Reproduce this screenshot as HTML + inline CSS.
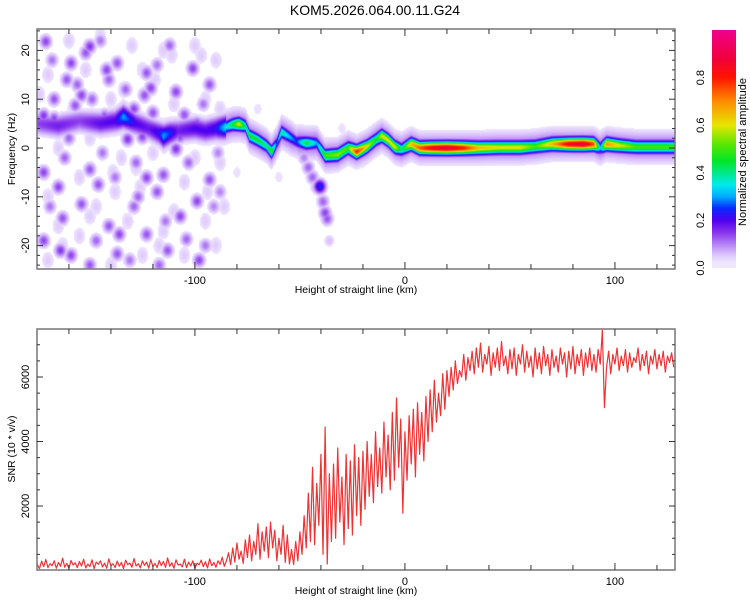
<!DOCTYPE html>
<html><head><meta charset="utf-8"><style>
body{margin:0;background:#fff;width:750px;height:600px;overflow:hidden;position:relative;font-family:"Liberation Sans",sans-serif}
#heat{position:absolute;left:37px;top:29px}
#svg{position:absolute;left:0;top:0}
</style></head><body>
<canvas id="heat" width="638" height="240"></canvas>
<svg id="svg" width="750" height="600"></svg>
<script>
// ---------- data ----------
const ridgeKm  = [-175,-165,-155,-145,-138,-134,-128,-122,-117,-115,-112,-108,-100,-95,-90,-86,-82,-79,-76,-74,-70,-66,-63.5,-61,-58.7,-55,-51.6,-47,-42,-38,-32,-27,-23,-18,-13.5,-11,-8,-4.8,-1.6,3,7,13,20,28,35,45,55,62,70,78,85,90,93,96,102,110,120,128.5];
const ridgeHz  = [5,4.5,5.5,5,5.5,6.4,5,4,3,2.4,3,3.5,4,3.5,4,4.2,4.8,4.9,4.5,2.5,1.6,0.5,-0.8,1,3.3,2.3,1.3,1,1,-1.6,-1.4,0,-0.8,0.3,1.8,2.5,1.6,0.2,-0.3,0.8,0,0,0,0,0,0.1,0.1,0.3,0.8,0.8,0.8,0.8,0,0.8,0.5,0.2,0.2,0.2];
const ridgeAmp = [0.14,0.17,0.14,0.19,0.2,0.3,0.2,0.18,0.22,0.3,0.25,0.17,0.2,0.2,0.22,0.32,0.45,0.6,0.4,0.45,0.45,0.4,0.5,0.25,0.4,0.32,0.25,0.45,0.3,0.5,0.55,0.5,0.8,0.6,0.45,0.6,0.6,0.6,0.4,0.65,0.75,0.85,0.9,0.8,0.65,0.6,0.6,0.5,0.65,0.85,0.9,0.75,0.3,0.7,0.6,0.5,0.5,0.5];
const dotKm = [-171,-150,-152,-159,-137,-142,-123,-101,-93,-161,-141,-121,-167,-154,-124,-109,-157,-149,-172,-167,-143,-129,-120,-105,-99,-132,-125,-109,-107,-172,-150,-165,-146,-123,-115,-93,-99,-107,-163,-172,-164,-150,-136,-123,-98,-137,-159,-113,-129,-154,-141,-118,-104,
 -168,-156,-145,-133,-118,-112,-96,-89,-162,-138,-127,-114,-103,-91,-169,-147,-131,-117,-95,-160,-144,-128,-111,-88,
 -48,-46,-44,-42,-40.5,-39,-38,-37,-36];
const dotHz = [21.8,20.8,19.5,17.4,17.4,16,15.4,16.3,13,14,14,12.3,10,10.8,10.8,11.5,8.7,10,6.6,6,6.6,8,7.2,6.8,5.1,1.8,2.3,-0.2,2.3,-5,-4.4,-8,-7.5,-6.1,-5.5,-6.5,-10.9,-14,-14.4,-19,-21,-24,-17.7,-17.7,-23,-21.7,-22,-21,-12,-11.5,-16,-9,-18.7,
 18,13,22,12,17,21,9,-1,-2,-6,-10,-15,-3,-12,-12,-19,-23,-24,-20,2,-1,-3,3,-9,
 -2,-4,-6,-8,-7.9,-11,-13.3,-14.5,-19];
const dotAmp = [0.14,0.15,0.13,0.14,0.13,0.14,0.13,0.14,0.13,0.13,0.12,0.14,0.13,0.14,0.13,0.14,0.13,0.12,0.15,0.14,0.13,0.14,0.13,0.13,0.14,0.15,0.14,0.15,0.14,0.14,0.13,0.14,0.13,0.14,0.13,0.13,0.14,0.14,0.13,0.14,0.15,0.13,0.14,0.13,0.14,0.13,0.14,0.13,0.12,0.13,0.13,0.13,0.12,
 0.11,0.12,0.11,0.12,0.11,0.12,0.11,0.1,0.12,0.11,0.12,0.11,0.12,0.1,0.11,0.12,0.11,0.12,0.11,0.12,0.11,0.12,0.11,0.1,
 0.1,0.12,0.12,0.1,0.25,0.12,0.14,0.13,0.06];
const haloKm = [-170,-160,-145,-130,-115,-100,-90,-165,-150,-135,-120,-100,-88,-170,-155,-138,-128,-110,-95,-90,-170,-155,-140,-125,-115,-105,-160,-140,-110,-95,-88,-125,-132,-165,-150,-105,
 -174,-158,-147,-126,-119,-104,-94,-152,-134,-117,-97,-163,-139,-111,-86,-80,-70,-60,-45,-30,-20];
const haloHz = [15,22,23,21,20,21,18,0,2,-2,-1,-2,-3,-10,-6,-9,-4,-13,-15,-20,-23,-18,-24,-22,-17,-22,5,10,9,10,8,16,-15,-16,-14,-7,
 11,8,-12,-8,14,3,-9,16,12,-20,19,-20,-5,19,-12,-5,8,-6,-4,4,-3];
const snrStartKm = -175, snrStepKm = 1;
const snrValues = [
180,60,290,120,340,90,210,150,300,70,250,130,380,100,220,60,310,170,240,90,
280,140,350,80,200,120,330,60,260,190,300,110,230,70,360,150,210,90,290,130,
250,60,320,180,230,100,370,140,210,80,300,160,260,70,340,120,220,90,310,150,
280,100,390,130,240,70,330,170,200,110,350,90,260,140,300,60,230,180,320,120,
270,80,360,150,250,100,300,190,410,130,
300,550,180,700,260,850,350,600,220,950,400,1100,300,900,500,
1450,350,1200,600,1350,400,1500,700,1250,300,1000,500,1400,250,1100,200,
650,180,900,300,1200,500,1700,700,2400,900,
3200,800,2700,1400,3600,500,4450,200,3000,900,
3300,1000,3800,1500,2900,800,3600,1300,3400,1100,3900,1700,3500,1400,
3700,1900,4000,2300,3600,2100,4300,2600,3800,2400,4600,2900,4200,2500,4900,
2800,5350,3200,4700,1780,4300,
2800,4800,3300,5000,2900,5200,3600,4900,3400,5400,
4000,5600,4300,5900,4600,5500,4800,6100,5000,6200,
5400,6300,5600,6500,5800,6200,6000,6700,5900,6600,
6200,6800,6100,6900,6300,7050,6150,6700,6400,6950,6050,6750,6300,6900,6200,7100,6350,6650,6100,6850,
6250,6900,6050,6700,6400,7000,6150,6800,6300,6650,6000,6900,6250,6750,6100,6950,6350,6700,6050,6850,
6300,6650,6150,6900,6400,6750,6000,6800,6250,6950,6100,6700,6350,6850,6050,6750,6300,6900,6200,6700,
6150,6850,6400,
7450,5050,
6300,6800,6100,6700,6400,6900,6200,6650,6350,6850,6150,6750,6300,6600,6450,6900,6200,6700,6350,6800,
6100,6650,6400,6850,6250,6700,6350,6800,6150,6650,6450,6750,6300];
const xTickLabels = [-100,0,100];
const freqTickLabels = [20,10,0,-10,-20];
const snrTickLabels = [2000,4000,6000];
const cbTickLabels = [0.0,0.2,0.4,0.6,0.8];

// ---------- axes ----------
const X0=37, X1=675, KM0=-175.2, KM1=128.6;
const xs = km => X0 + (km-KM0)/(KM1-KM0)*(X1-X0);
const TY0=29, TY1=269;
const yf = f => 148 - 4.88*f;
const BY0=329, BY1=570;
const ys = v => 570.5 - v*0.03225;
const CBX=712, CBW=24, CBY0=30, CBY1=268;
const yc = v => CBY1 - v*(CBY1-CBY0);

const stops=[[0,240,232,255],[0.03,238,228,255],[0.06,218,192,252],[0.1,180,130,246],[0.15,135,50,236],[0.2,80,0,240],[0.25,10,40,255],[0.3,0,170,255],[0.35,0,235,235],[0.45,0,230,40],[0.52,90,230,0],[0.6,230,230,0],[0.7,255,140,0],[0.8,255,20,0],[0.88,240,0,60],[1,240,0,140]];
function cmap(v){
  v=Math.max(0,Math.min(1,v));
  for(let i=1;i<stops.length;i++){ if(v<=stops[i][0]){const a=stops[i-1],b=stops[i];const t=(v-a[0])/(b[0]-a[0]||1);return [a[1]+t*(b[1]-a[1]),a[2]+t*(b[2]-a[2]),a[3]+t*(b[3]-a[3])];}}
  return stops[stops.length-1].slice(1);
}
function interp(xa,ya,x){
  if(x<=xa[0])return ya[0]; if(x>=xa[xa.length-1])return ya[ya.length-1];
  for(let i=1;i<xa.length;i++) if(x<=xa[i]){const t=(x-xa[i-1])/(xa[i]-xa[i-1]);return ya[i-1]+t*(ya[i]-ya[i-1]);}
}
// ---------- heatmap ----------
(function(){
  const cv=document.getElementById('heat'),ctx=cv.getContext('2d');
  const W=cv.width,H=cv.height,F=new Float32Array(W*H);
  const pxKm=px=>KM0+(px+0.5)/(X1-X0)*(KM1-KM0);
  const pyHz=py=>(148-(TY0+py+0.5))/4.88;
  for(let px=0;px<W;px++){
    const km=pxKm(px),f0=interp(ridgeKm,ridgeHz,km),a=interp(ridgeKm,ridgeAmp,km);
    const sf=km<-85?1.5:0.9, ha=Math.min(0.12,a*0.4);
    for(let py=0;py<H;py++){
      const df=pyHz(py)-f0;
      const v=Math.max(a*Math.exp(-df*df/(2*sf*sf)),ha*Math.exp(-df*df/(2*2.2*2.2)));
      const k=py*W+px; if(v>F[k])F[k]=v;
    }
  }
  function blob(km,hz,amp,sk,sh){
    const cx=xs(km)-X0,cy=yf(hz)-TY0,rx=sk*2.1*3,ry=sh*4.88*3;
    for(let px=Math.max(0,Math.floor(cx-rx));px<Math.min(W,cx+rx);px++)
      for(let py=Math.max(0,Math.floor(cy-ry));py<Math.min(H,cy+ry);py++){
        const dk=(pxKm(px)-km)/sk,dh=(pyHz(py)-hz)/sh;
        const v=amp*Math.exp(-(dk*dk+dh*dh)/2),k=py*W+px; if(v>F[k])F[k]=v;
      }
  }
  for(let i=0;i<haloKm.length;i++) blob(haloKm[i],haloHz[i],haloKm[i]>-85?0.035:0.05,2.6,1.6);
  for(let i=0;i<dotKm.length;i++){ blob(dotKm[i],dotHz[i],dotKm[i]>-85?0.034:0.045,3.0,1.7); blob(dotKm[i],dotHz[i],dotAmp[i],2.0,1.0); }
  const img=ctx.createImageData(W,H);
  for(let k=0;k<W*H;k++){
    const v=F[k],o=k*4;
    if(v<0.028){img.data[o]=255;img.data[o+1]=255;img.data[o+2]=255;img.data[o+3]=255;continue;}
    const c=cmap(v);img.data[o]=c[0];img.data[o+1]=c[1];img.data[o+2]=c[2];img.data[o+3]=255;
  }
  ctx.putImageData(img,0,0);
})();
// ---------- svg ----------
const svg=document.getElementById('svg'),NS='http://www.w3.org/2000/svg';
function el(tag,attrs,parent){const e=document.createElementNS(NS,tag);for(const k in attrs)e.setAttribute(k,attrs[k]);(parent||svg).appendChild(e);return e;}
function txt(s,x,y,attrs,name){const t=el('text',Object.assign({x:x,y:y,'font-size':11,fill:'#000','text-anchor':'middle','font-family':'Liberation Sans, sans-serif'},attrs||{}));t.textContent=s;


return t;}

txt('KOM5.2026.064.00.11.G24',375,15,{'font-size':14},'chart-title');

const defs=el('defs',{});
const lg=el('linearGradient',{id:'cbg',x1:0,y1:1,x2:0,y2:0},defs);
for(let i=0;i<=40;i++){const c=cmap(i/40);el('stop',{offset:i/40,'stop-color':`rgb(${c[0]|0},${c[1]|0},${c[2]|0})`},lg);}
const cb=el('rect',{x:CBX,y:CBY0,width:CBW,height:CBY1-CBY0,fill:'url(#cbg)'});


cbTickLabels.forEach(v=>{txt(v.toFixed(1),0,0,{transform:`translate(704,${yc(v)}) rotate(-90)`},'colorbar-tick-label');});
txt('Normalized spectral amplitude',0,0,{transform:'translate(746,152) rotate(-90)'},'colorbar-title');

function frame(y0,y1,name){
  const r=el('rect',{x:X0,y:y0,width:X1-X0,height:y1-y0,fill:'none',stroke:'#777','stroke-width':1.5});
  
  
  for(let km=-160;km<=120;km+=20){
    const x=xs(km),L=(km%100===0)?7:5;
    el('line',{x1:x,x2:x,y1:y0,y2:y0+L,stroke:'#333','stroke-width':1});
    el('line',{x1:x,x2:x,y1:y1,y2:y1-L,stroke:'#333','stroke-width':1});
  }
  xTickLabels.forEach(v=>txt(String(v),xs(v),y1+15,{},'x-tick-label'));
  txt('Height of straight line (km)',356,y1+24,{'font-size':10.5},'x-axis-title');
}
frame(TY0,TY1,'spectrogram-frame');
for(let f=-24;f<=24;f+=2){const y=yf(f),L=(f%10===0)?6:3;
  el('line',{x1:X0,x2:X0+L,y1:y,y2:y,stroke:'#333'});el('line',{x1:X1,x2:X1-L,y1:y,y2:y,stroke:'#333'});}
freqTickLabels.forEach(v=>txt(String(v),0,0,{transform:`translate(${X0-8},${yf(v)}) rotate(-90)`},'y-tick-label'));
txt('Frequency (Hz)',0,0,{transform:'translate(15,149) rotate(-90)','font-size':10.5},'y-axis-title-frequency');

const pts=snrValues.map((v,i)=>`${xs(snrStartKm+i*snrStepKm).toFixed(2)},${ys(v).toFixed(2)}`).join(' ');
const line=el('polyline',{points:pts,fill:'none',stroke:'#ee3333','stroke-width':1.2,'stroke-linejoin':'round'});


el('rect',{x:0,y:BY1+1,width:37,height:20,fill:'#fff'});
frame(BY0,BY1,'snr-frame');
for(let v=500;v<=7000;v+=500){const y=ys(v),L=(v%2000===0)?6:3;
  el('line',{x1:X0,x2:X0+L,y1:y,y2:y,stroke:'#333'});el('line',{x1:X1,x2:X1-L,y1:y,y2:y,stroke:'#333'});}
snrTickLabels.forEach(v=>txt(String(v),0,0,{transform:`translate(${X0-8},${ys(v)}) rotate(-90)`},'y-tick-label'));
txt('SNR (10 * v/v)',0,0,{transform:'translate(15,449) rotate(-90)','font-size':10.5},'y-axis-title-snr');
</script>
</body></html>
